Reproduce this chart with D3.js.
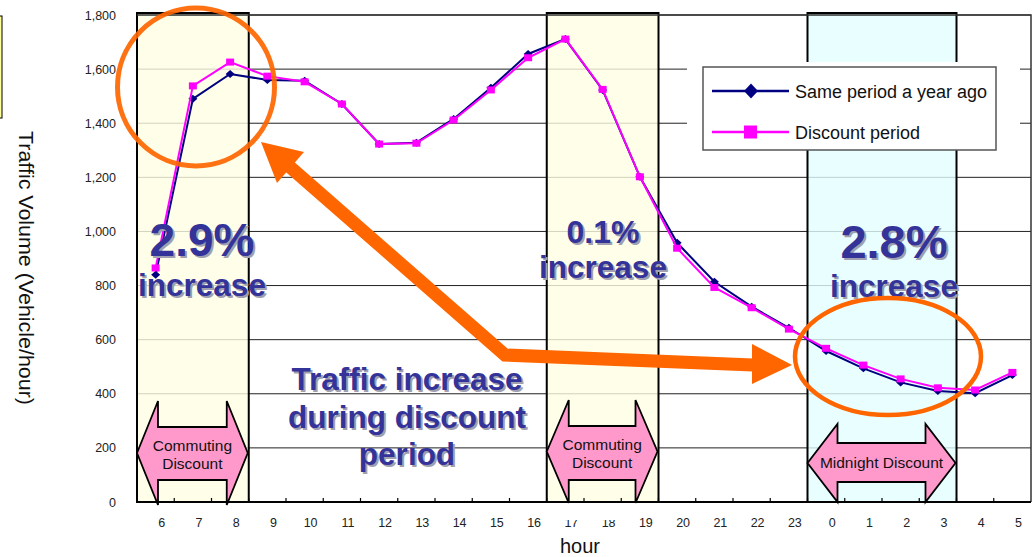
<!DOCTYPE html>
<html>
<head>
<meta charset="utf-8">
<script src="https://cdn.jsdelivr.net/npm/d3@7"></script>
<style>
  body { margin: 0; background: #fff; }
  svg { display: block; font-family: "Liberation Sans", Arial, sans-serif; }
</style>
</head>
<body>
<svg id="chart" width="1033" height="557"></svg>
<script>
// Hourly traffic volume (vehicles/hour), 6:00 through 5:00 next morning
const hours = ["6","7","8","9","10","11","12","13","14","15","16","17","18","19","20","21","22","23","0","1","2","3","4","5"];
const yearAgo  = [840,1490,1582,1560,1557,1471,1323,1328,1416,1531,1656,1711,1523,1202,958,814,722,644,558,494,442,410,402,469];
const discount = [865,1538,1626,1574,1553,1471,1323,1326,1412,1523,1642,1711,1525,1202,938,793,718,639,568,506,455,422,414,479];
const yTicks = [0,200,400,600,800,1000,1200,1400,1600,1800];
const seriesNames = ["Same period a year ago", "Discount period"];

// Discount time windows
const periodFrom  = ["6", "17", "0"];
const periodTo    = ["8", "19", "3"];
const periodFill  = ["#FFFFE4", "#FFFFE4", "#E4FFFF"];
const periodLabel = [["Commuting","Discount"], ["Commuting","Discount"], ["Midnight Discount"]];
const periodGain  = ["2.9%", "0.1%", "2.8%"];

const svg = d3.select("#chart");
const plotL = 137, plotR = 1031, plotT = 15, plotB = 502;

const x = d3.scaleBand().domain(hours).range([plotL, plotR]);
const y = d3.scaleLinear().domain([0, 1800]).range([plotB, plotT]);
const cx = h => x(h) + x.bandwidth() / 2;

const NAVY = "#000080", MAGENTA = "#FF00FF", ORANGE = "#FF6600", TXT = "#333399";

// horizontal gridlines
svg.append("g").selectAll("line").data(yTicks.filter(d => d > 0)).join("line")
  .attr("x1", plotL).attr("x2", plotR)
  .attr("y1", d => y(d)).attr("y2", d => y(d))
  .attr("stroke", "#222").attr("stroke-width", 1);

// shaded discount windows
const boxes = periodFrom.map((f, i) => ({
  x0: x(f), x1: x(periodTo[i]) + x.bandwidth(), fill: periodFill[i], label: periodLabel[i], gain: periodGain[i]
}));
svg.append("g").selectAll("rect").data(boxes).join("rect")
  .attr("x", d => d.x0).attr("y", plotT - 2)
  .attr("width", d => d.x1 - d.x0).attr("height", plotB - plotT + 2)
  .attr("fill", d => d.fill).attr("fill-opacity", 0.8)
  .attr("stroke", "#000").attr("stroke-width", 2);

// legend backdrop
svg.append("rect").attr("x", 687).attr("y", 62).attr("width", 333).attr("height", 88).attr("fill", "#fff");

// frame: top and right edges
svg.append("path")
  .attr("d", `M${plotL},${plotT}H${plotR}V${plotB}`)
  .attr("fill", "none").attr("stroke", "#333").attr("stroke-width", 1.5);

// x axis line and inward ticks
svg.append("line").attr("x1", plotL).attr("x2", plotR).attr("y1", plotB).attr("y2", plotB)
  .attr("stroke", "#000").attr("stroke-width", 2);
svg.append("g").selectAll("line").data(hours.slice(1)).join("line")
  .attr("x1", d => x(d)).attr("x2", d => x(d))
  .attr("y1", plotB).attr("y2", plotB - 4)
  .attr("stroke", "#000").attr("stroke-width", 1.2);

// x tick labels
svg.append("g").selectAll("text").data(hours).join("text")
  .attr("x", d => cx(d) + 6).attr("y", 527)
  .attr("text-anchor", "middle").attr("font-size", 12.5).attr("fill", "#222")
  .text(d => d);

// y tick labels
svg.append("g").selectAll("text").data(yTicks).join("text")
  .attr("x", 116).attr("y", d => y(d) + 4.5)
  .attr("text-anchor", "end").attr("font-size", 12.5).attr("fill", "#222")
  .text(d => d3.format(",")(d));

// a text box near the evening window hides the tops of some hour labels
svg.append("rect").attr("x", 541).attr("y", 506).attr("width", 82).attr("height", 14).attr("fill", "#fff");

// axis titles
svg.append("text")
  .attr("transform", "translate(19,268) rotate(90)")
  .attr("text-anchor", "middle").attr("font-size", 20).attr("fill", "#111")
  .attr("textLength", 274).attr("lengthAdjust", "spacingAndGlyphs")
  .text("Traffic Volume (Vehicle/hour)");
svg.append("text").attr("x", 580).attr("y", 553)
  .attr("text-anchor", "middle").attr("font-size", 20).attr("fill", "#111").text("hour");

// series
const line = d3.line().x((d, i) => cx(hours[i])).y(d => y(d));
svg.append("path").datum(yearAgo).attr("d", line)
  .attr("fill", "none").attr("stroke", NAVY).attr("stroke-width", 2);
svg.append("g").selectAll("path").data(yearAgo).join("path")
  .attr("transform", (d, i) => `translate(${cx(hours[i])},${y(d)})`)
  .attr("d", "M0,-4L4.5,0L0,4L-4.5,0Z").attr("fill", NAVY);
svg.append("path").datum(discount).attr("d", line)
  .attr("fill", "none").attr("stroke", MAGENTA).attr("stroke-width", 2);
svg.append("g").selectAll("rect").data(discount).join("rect")
  .attr("x", (d, i) => cx(hours[i]) - 4).attr("y", d => y(d) - 3.5)
  .attr("width", 8).attr("height", 7).attr("fill", MAGENTA);

// double-headed pink arrows marking each discount window
const arrowSpec = [
  { inset: 21, yTop: 401, yS1: 427, yS2: 480, yBot: 505 },
  { inset: 22, yTop: 400, yS1: 426, yS2: 480, yBot: 503 },
  { inset: 30, yTop: 424, yS1: 443, yS2: 482, yBot: 502 }
];
boxes.forEach((b, i) => {
  const s = arrowSpec[i];
  const x0 = b.x0, x1 = b.x1 - 1, ym = (s.yTop + s.yBot) / 2;
  const pts = [[x0, ym], [x0 + s.inset, s.yTop], [x0 + s.inset, s.yS1], [x1 - s.inset, s.yS1], [x1 - s.inset, s.yTop],
               [x1, ym], [x1 - s.inset, s.yBot], [x1 - s.inset, s.yS2], [x0 + s.inset, s.yS2], [x0 + s.inset, s.yBot]];
  svg.append("polygon").attr("points", pts.map(p => p.join(",")).join(" "))
    .attr("fill", "#FF99CC").attr("stroke", "#000").attr("stroke-width", 1.8).attr("stroke-linejoin", "miter");
  const mid = (x0 + x1) / 2;
  if (b.label.length === 2) {
    svg.append("text").attr("x", mid).attr("y", ym - 2).attr("text-anchor", "middle")
      .attr("font-size", 15.5).attr("fill", "#111").text(b.label[0]);
    svg.append("text").attr("x", mid).attr("y", ym + 16).attr("text-anchor", "middle")
      .attr("font-size", 15.5).attr("fill", "#111").text(b.label[1]);
  } else {
    svg.append("text").attr("x", mid).attr("y", ym + 5).attr("text-anchor", "middle")
      .attr("font-size", 15.5).attr("fill", "#111").text(b.label[0]);
  }
});

// bold annotation text with a soft drop shadow
function shadowText(tx, ty, size, str) {
  svg.append("text").attr("x", tx + 2).attr("y", ty + 2).attr("text-anchor", "middle")
    .attr("font-size", size).attr("font-weight", "bold").attr("fill", "#A0A0B0").text(str);
  svg.append("text").attr("x", tx).attr("y", ty).attr("text-anchor", "middle")
    .attr("font-size", size).attr("font-weight", "bold").attr("fill", TXT).text(str);
}
const gainPos = [
  { x: 202, y1: 256, s1: 46, y2: 296 },
  { x: 603, y1: 243, s1: 32, y2: 278 },
  { x: 894, y1: 258, s1: 47, y2: 297 }
];
boxes.forEach((b, i) => {
  const p = gainPos[i];
  shadowText(p.x, p.y1, p.s1, b.gain);
  shadowText(p.x, p.y2, 31.5, "increase");
});
shadowText(407, 390, 31.5, "Traffic increase");
shadowText(407, 428, 31.5, "during discount");
shadowText(407, 465, 31.5, "period");

// orange highlight rings
svg.append("ellipse").attr("cx", 196).attr("cy", 87).attr("rx", 78.5).attr("ry", 79)
  .attr("fill", "none").attr("stroke", ORANGE).attr("stroke-width", 5).attr("stroke-opacity", 0.92);
svg.append("ellipse").attr("cx", 888).attr("cy", 356.5).attr("rx", 93).attr("ry", 58.5)
  .attr("fill", "none").attr("stroke", ORANGE).attr("stroke-width", 4.5);

// bent double-headed orange arrow linking the two rings
svg.append("polyline").attr("points", "290,167 505,355 753,365")
  .attr("fill", "none").attr("stroke", ORANGE).attr("stroke-width", 13).attr("stroke-linejoin", "miter");
svg.append("polygon").attr("points", "261,142 304,152 277,183").attr("fill", ORANGE);
svg.append("polygon").attr("points", "792,365 752,344 752,384").attr("fill", ORANGE);

// legend
const lg = svg.append("g");
lg.append("rect").attr("x", 703).attr("y", 67).attr("width", 293).attr("height", 83)
  .attr("fill", "none").attr("stroke", "#555").attr("stroke-width", 1.5);
const legendRows = [{ c: NAVY, y: 91 }, { c: MAGENTA, y: 132 }];
legendRows.forEach((r, i) => {
  lg.append("line").attr("x1", 712).attr("x2", 789).attr("y1", r.y).attr("y2", r.y)
    .attr("stroke", r.c).attr("stroke-width", 2.5);
  if (i === 0) {
    lg.append("path").attr("transform", `translate(751,${r.y})`).attr("d", "M0,-7.5L7,0L0,7.5L-7,0Z").attr("fill", r.c);
  } else {
    lg.append("rect").attr("x", 744).attr("y", r.y - 6.5).attr("width", 13).attr("height", 13).attr("fill", r.c);
  }
  lg.append("text").attr("x", 795).attr("y", r.y + 6.5).attr("font-size", 18).attr("fill", "#111")
    .text(seriesNames[i]);
});

// clipped box edge at the far left
svg.append("rect").attr("x", -4).attr("y", 16).attr("width", 6).attr("height", 102)
  .attr("fill", "#FFFF99").attr("stroke", "#000").attr("stroke-width", 1);
</script>
</body>
</html>
